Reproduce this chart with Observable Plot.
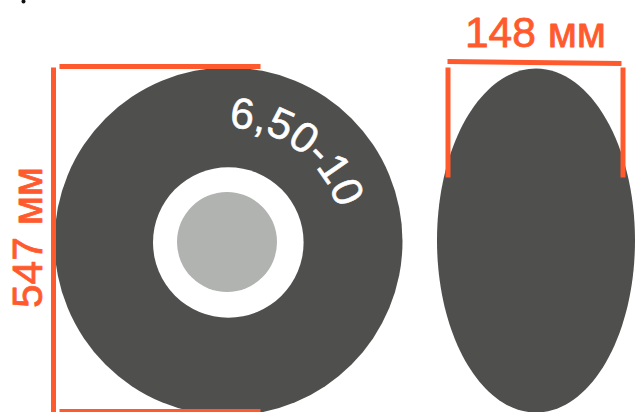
<!DOCTYPE html>
<html><head><meta charset="utf-8">
<script src="https://cdn.jsdelivr.net/npm/d3@7"></script>
<script src="https://cdn.jsdelivr.net/npm/@observablehq/plot@0.6"></script>
<style>html,body{margin:0;padding:0;background:#fff}svg{display:block}</style>
</head><body><div id="c"></div>
<script>
const ORANGE = "#ff5a2d", DARK = "#4f4f4e", GREY = "#b1b3b1";
const discCx = [228, 227.8, 226.5];
const discCy = [241, 242, 241.5];
const discR = [174, 75.3, 50];
const discFill = [DARK, "#ffffff", GREY];
const profileCx = [535.5], profileCy = [240], profileR = [172], profileAspect = 99 / 172;
const ruleX1 = [59, 53, 59, 447, 447.5, 622.5];
const ruleY1 = [66, 67, 411, 61, 67, 67];
const ruleX2 = [260, 53, 260, 621, 447.5, 622.5];
const ruleY2 = [66, 412, 411, 63, 177, 177];
const labelText = ["148 мм", "547 мм"];
const labelX = [535, 28];
const labelY = [33, 237];
const labelRot = [0, -90];
const tireText = ["6,50-10"];
const arc = {cx: 228, cy: 241, r: 114, a0: 0.2, a1: 95};
const idx = a => d3.range(a.length);
const ellipse = {draw(ctx, size){
  const ry = Math.sqrt(size / Math.PI), rx = ry * profileAspect, k = 0.5522847;
  ctx.moveTo(0, -ry);
  ctx.bezierCurveTo(k*rx, -ry, rx, -k*ry, rx, 0);
  ctx.bezierCurveTo(rx, k*ry, k*rx, ry, 0, ry);
  ctx.bezierCurveTo(-k*rx, ry, -rx, k*ry, -rx, 0);
  ctx.bezierCurveTo(-rx, -k*ry, -k*rx, -ry, 0, -ry);
  ctx.closePath();
}};
const chart = Plot.plot({
  width: 635, height: 412, margin: 0,
  style: {background: "#fff"},
  x: {domain: [0, 635], range: [0, 635], axis: null},
  y: {domain: [0, 412], range: [0, 412], axis: null},
  r: {type: "identity"},
  marks: [
    Plot.dot(idx(discR), {x: i => discCx[i], y: i => discCy[i], r: i => discR[i], fill: i => discFill[i], stroke: "none"}),
    Plot.dot(idx(profileR), {x: i => profileCx[i], y: i => profileCy[i], r: i => profileR[i], symbol: ellipse, fill: DARK, stroke: "none"}),
    Plot.link(idx(ruleX1), {x1: i => ruleX1[i], y1: i => ruleY1[i], x2: i => ruleX2[i], y2: i => ruleY2[i], stroke: ORANGE, strokeWidth: 5, strokeLinecap: "butt"}),
    Plot.text(idx(labelText), {text: i => labelText[i], x: i => labelX[i], y: i => labelY[i], rotate: i => labelRot[i], fill: ORANGE, stroke: ORANGE, strokeWidth: 0.8, fontSize: 42.5, fontFamily: "Liberation Sans", textAnchor: "middle"}),
    Plot.text(tireText, {
      x: () => arc.cx, y: () => arc.cy, text: d => d, fill: "#fff", stroke: "#fff", strokeWidth: 0.6, fontSize: 42.8, fontFamily: "Liberation Sans", textAnchor: "start",
      render(index, scales, values, dim, ctx, next) {
        const g = next(index, scales, values, dim, ctx);
        const t = g.querySelector("text");
        const cx = scales.x(arc.cx), cy = scales.y(arc.cy), rad = d => (d - 90) * Math.PI / 180;
        const p = d3.path();
        p.arc(cx, cy, arc.r, rad(arc.a0), rad(arc.a1));
        const ns = "http://www.w3.org/2000/svg";
        const path = document.createElementNS(ns, "path");
        path.setAttribute("id", "tire-arc"); path.setAttribute("d", p.toString()); path.setAttribute("fill", "none"); path.setAttribute("stroke", "none");
        const tp = document.createElementNS(ns, "textPath");
        tp.setAttribute("href", "#tire-arc");
        tp.textContent = t.textContent;
        t.textContent = "";
        t.removeAttribute("transform"); t.removeAttribute("x"); t.removeAttribute("y");
        t.removeAttribute("dy");
        t.appendChild(tp);
        g.appendChild(path);
        return g;
      }
    }),
    Plot.dot([0], {x: () => 23, y: () => 1, r: () => 2, fill: "#111", stroke: "none"})
  ]
});
document.getElementById("c").appendChild(chart);
</script></body></html>
